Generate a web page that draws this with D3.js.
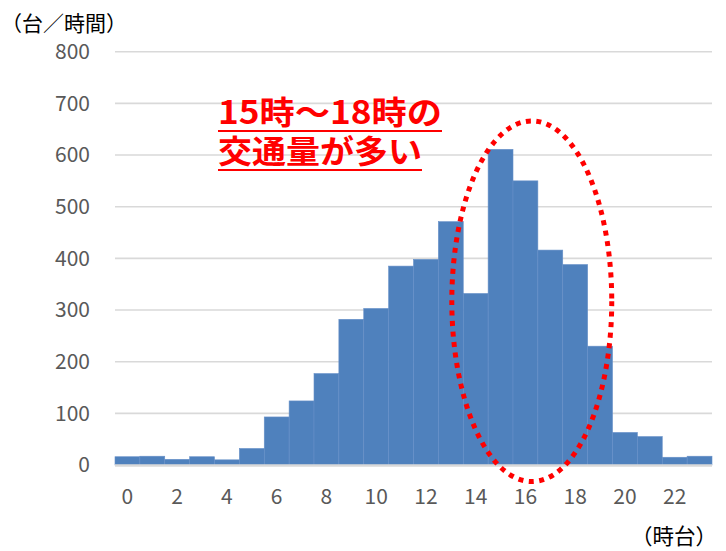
<!DOCTYPE html>
<html>
<head>
<meta charset="utf-8">
<script src="https://cdn.jsdelivr.net/npm/d3@7"></script>
<style>
  body { margin: 0; background: #fff; }
  svg { display: block; font-family: "Noto Sans CJK JP", "Noto Sans", sans-serif; }
</style>
</head>
<body>
<svg id="chart" width="726" height="551"></svg>
<script>
const hours = d3.range(0, 24);
const counts = [16, 17, 11, 16, 10, 32, 93, 124, 177, 282, 303, 385, 398, 471, 332, 611, 550, 416, 388, 230, 63, 55, 15, 17];
const yTicks = [0, 100, 200, 300, 400, 500, 600, 700, 800];
const xTickHours = [0, 2, 4, 6, 8, 10, 12, 14, 16, 18, 20, 22];
const yTitle = "（台／時間）";
const xTitle = "（時台）";
const noteLines = ["15時～18時の", "交通量が多い"];
// highlighted range, in hour / count units
const highlight = { x0: 13.54, x1: 19.97, yTop: 666, yBottom: -32 };

const svg = d3.select("#chart");
const plotLeft = 115, plotRight = 712, plotTop = 51.7, plotBottom = 465;

const x = d3.scaleBand().domain(hours).range([plotLeft, plotRight]).padding(0);
const xh = d3.scaleLinear().domain([0, 24]).range([plotLeft, plotRight]);
const y = d3.scaleLinear().domain([0, 800]).range([plotBottom, plotTop]);

// gridlines
svg.append("g")
  .selectAll("line")
  .data(yTicks.filter(d => d > 0))
  .join("line")
  .attr("x1", plotLeft).attr("x2", plotRight)
  .attr("y1", d => y(d)).attr("y2", d => y(d))
  .attr("stroke", "#d9d9d9").attr("stroke-width", 1.6);

// bars
svg.append("g")
  .selectAll("rect")
  .data(counts)
  .join("rect")
  .attr("x", (d, i) => x(hours[i]))
  .attr("width", x.bandwidth())
  .attr("y", d => y(d))
  .attr("height", d => y(0) - y(d))
  .attr("fill", "#4f81bd")
  .attr("stroke", "#6790c8")
  .attr("stroke-width", 0.6);

// baseline
svg.append("line")
  .attr("x1", plotLeft).attr("x2", plotRight)
  .attr("y1", y(0) + 0.5).attr("y2", y(0) + 0.5)
  .attr("stroke", "#d9d9d9").attr("stroke-width", 2.4);

// y axis labels
const yAxis = svg.append("g")
  .attr("transform", "translate(92,0)")
  .call(d3.axisLeft(y).tickValues(yTicks).tickSize(0).tickPadding(2));
yAxis.select(".domain").remove();
yAxis.selectAll("text")
  .attr("fill", "#595959")
  .style("font-size", "21px")
  .style("font-family", "'Noto Sans CJK JP', sans-serif");

// x axis labels
const xAxis = svg.append("g")
  .attr("transform", `translate(0,${plotBottom})`)
  .call(d3.axisBottom(x).tickValues(xTickHours).tickSize(0).tickPadding(24));
xAxis.select(".domain").remove();
xAxis.selectAll("text")
  .attr("fill", "#595959")
  .style("font-size", "21px")
  .style("font-family", "'Noto Sans CJK JP', sans-serif");

// axis titles
svg.append("text")
  .attr("x", 1).attr("y", 31)
  .attr("font-size", 21).attr("fill", "#000")
  .text(yTitle);
svg.append("text")
  .attr("x", 717).attr("y", 544)
  .attr("text-anchor", "end")
  .attr("font-size", 21.5).attr("fill", "#000")
  .text(xTitle);

// highlight ellipse
svg.append("ellipse")
  .attr("cx", (xh(highlight.x0) + xh(highlight.x1)) / 2)
  .attr("cy", (y(highlight.yTop) + y(highlight.yBottom)) / 2)
  .attr("rx", (xh(highlight.x1) - xh(highlight.x0)) / 2)
  .attr("ry", (y(highlight.yBottom) - y(highlight.yTop)) / 2)
  .attr("fill", "none")
  .attr("stroke", "#ff0000")
  .attr("stroke-width", 5)
  .attr("stroke-dasharray", "5 5.5");

// annotation
const noteX = 218;
const noteBase = [124, 163];
const noteWidth = [224, 204];
noteLines.forEach((t, i) => {
  svg.append("text")
    .attr("x", noteX).attr("y", noteBase[i])
    .attr("font-size", 32).attr("font-weight", "bold")
    .attr("fill", "#ff0000")
    .attr("textLength", noteWidth[i])
    .attr("lengthAdjust", "spacingAndGlyphs")
    .text(t);
  svg.append("line")
    .attr("x1", noteX).attr("x2", noteX + noteWidth[i])
    .attr("y1", noteBase[i] + 7).attr("y2", noteBase[i] + 7)
    .attr("stroke", "#ff0000").attr("stroke-width", 2);
});
</script>
</body>
</html>
